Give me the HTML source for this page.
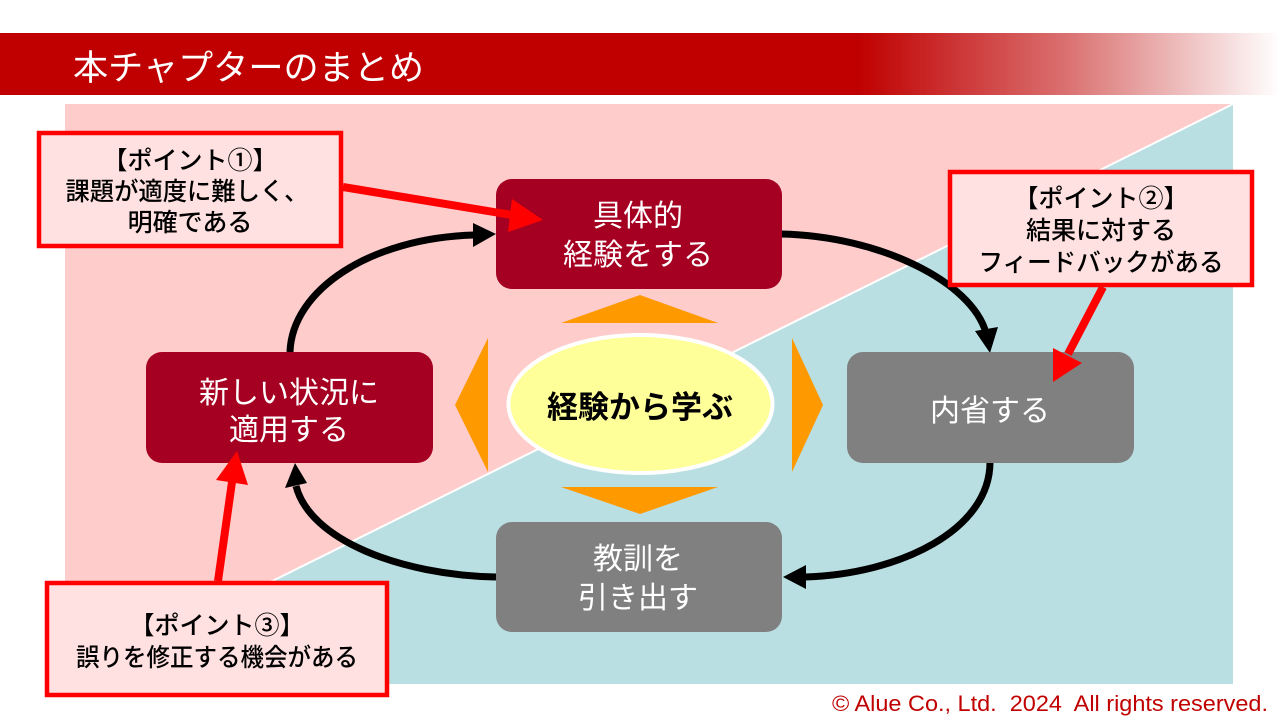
<!DOCTYPE html>
<html><head><meta charset="utf-8"><style>
html,body{margin:0;padding:0;background:#fff;}
svg{display:block;}
text{font-family:"Liberation Sans","Noto Sans CJK JP",sans-serif;}
</style></head><body>
<svg width="1280" height="720" viewBox="0 0 1280 720" xmlns="http://www.w3.org/2000/svg">
<defs>
<linearGradient id="hg" x1="0" y1="0" x2="1280" y2="0" gradientUnits="userSpaceOnUse">
<stop offset="0" stop-color="#C00000"/>
<stop offset="0.67" stop-color="#C00000"/>
<stop offset="0.83" stop-color="#DA6E6E"/>
<stop offset="1" stop-color="#FFFFFF"/>
</linearGradient>
</defs>
<rect x="0" y="0" width="1280" height="720" fill="#fff"/>
<!-- header -->
<rect x="0" y="33" width="1280" height="62" fill="url(#hg)"/>
<text x="73" y="80" font-size="35" fill="#fff" textLength="351" lengthAdjust="spacingAndGlyphs">本チャプターのまとめ</text>
<!-- background -->
<rect x="65" y="104" width="1168" height="580" fill="#FFCCCC"/>
<polygon points="1233,104 1233,684 65,684" fill="#B9DFE2"/>
<line x1="1233" y1="104" x2="65" y2="684" stroke="#fff" stroke-width="2"/>

<!-- orange triangles -->
<polygon points="561,323 718,323 640,295" fill="#FF9900"/>
<polygon points="561,487 718,487 640,514" fill="#FF9900"/>
<polygon points="488,338 488,472 455,405" fill="#FF9900"/>
<polygon points="792,338 792,472 823,405" fill="#FF9900"/>

<!-- ellipse -->
<ellipse cx="640.5" cy="404" rx="132" ry="69" fill="#FFFF99" stroke="#fff" stroke-width="4"/>
<text x="640" y="418" font-size="31" font-weight="bold" text-anchor="middle" fill="#000">経験から学ぶ</text>

<!-- black arrows -->
<g fill="none" stroke="#000" stroke-width="7">
<path d="M781,234 C880,236 972,282 986,333"/>
<path d="M990,462 C990,530 900,574 805,577"/>
<path d="M496,577 C400,575 310,540 296,486"/>
<path d="M290,352 C292,290 370,238 474,235"/>
</g>
<polygon points="975,331 998,327 990,353" fill="#000"/>
<polygon points="806,565 806,589 783,577" fill="#000"/>
<polygon points="285,488 307,483 295,463" fill="#000"/>
<polygon points="473,223 473,247 496,234" fill="#000"/>

<!-- boxes -->
<rect x="496" y="179" width="286" height="110" rx="16" fill="#A50021"/>
<text x="638" y="226" font-size="30" fill="#fff" text-anchor="middle">具体的</text>
<text x="638" y="265" font-size="30" fill="#fff" text-anchor="middle">経験をする</text>

<rect x="847" y="352" width="287" height="111" rx="16" fill="#808080"/>
<text x="990" y="421" font-size="30" fill="#fff" text-anchor="middle">内省する</text>

<rect x="496" y="522" width="286" height="110" rx="16" fill="#808080"/>
<text x="638" y="569" font-size="30" fill="#fff" text-anchor="middle">教訓を</text>
<text x="638" y="608" font-size="30" fill="#fff" text-anchor="middle">引き出す</text>

<rect x="146" y="352" width="287" height="111" rx="16" fill="#A50021"/>
<text x="289" y="403" font-size="30" fill="#fff" text-anchor="middle">新しい状況に</text>
<text x="289" y="440" font-size="30" fill="#fff" text-anchor="middle">適用する</text>

<!-- callouts -->
<rect x="39" y="133" width="302" height="113" fill="#FFE1E1" stroke="#FF0000" stroke-width="4.5"/>
<rect x="950" y="172" width="302" height="113" fill="#FFE1E1" stroke="#FF0000" stroke-width="4.5"/>
<rect x="47" y="583" width="340" height="112" fill="#FFE1E1" stroke="#FF0000" stroke-width="4.5"/>
<g font-weight="500" fill="#000" text-anchor="middle" font-size="25">
<text x="190" y="169">【ポイント①】</text>
<text x="187" y="200" textLength="243" lengthAdjust="spacingAndGlyphs">課題が適度に難しく、</text>
<text x="190" y="231">明確である</text>

<text x="1101" y="207">【ポイント②】</text>
<text x="1101" y="239">結果に対する</text>
<text x="1101" y="271" textLength="245" lengthAdjust="spacingAndGlyphs">フィードバックがある</text>

<text x="217" y="634">【ポイント③】</text>
<text x="217" y="666" textLength="282" lengthAdjust="spacingAndGlyphs">誤りを修正する機会がある</text>
</g>

<!-- red arrows -->
<g stroke="#FF0000" stroke-width="8" fill="none">
<line x1="343" y1="187" x2="512" y2="215"/>
<line x1="1103" y1="287" x2="1068" y2="354"/>
<line x1="218" y1="581" x2="232" y2="482"/>
</g>
<polygon points="512,199 508,232 543,220" fill="#FF0000"/>
<polygon points="1082,363 1053,348 1053,382" fill="#FF0000"/>
<polygon points="248,485 216,480 237,451" fill="#FF0000"/>

<!-- copyright -->
<text x="832" y="711" font-size="22" fill="#C00000" textLength="436" lengthAdjust="spacingAndGlyphs" xml:space="preserve">© Alue Co., Ltd.  2024  All rights reserved.</text>
</svg>
</body></html>
